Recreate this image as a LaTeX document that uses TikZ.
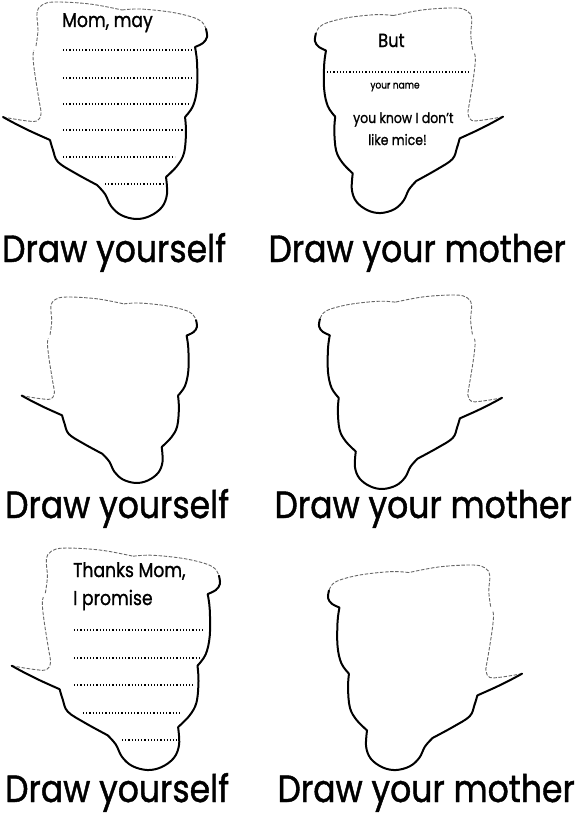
\documentclass[tikz,border=0pt]{standalone}
\usepackage{fontspec}
\setmainfont{Poppins}[FakeBold=1.2]

\begin{document}
\begin{tikzpicture}[x=1pt, y=-1pt,
    cutline/.style={line width=2pt, line cap=round, line join=round, black},
    foldline/.style={line width=0.9pt, black!60, dash pattern=on 3.5pt off 1.6pt},
    dotline/.style={line width=1.2pt, black, dash pattern=on 1.1pt off 2.1pt},
    caption/.style={font=\fontsize{38}{40}\selectfont, xscale=0.87, inner sep=0},
    bubbletext/.style={font=\fontsize{20}{22}\selectfont, xscale=0.86, inner sep=0, anchor=base west}]
  \useasboundingbox (0,0) rectangle (576,819);
  % six bubbles, one outline, each shifted and scaled (negative xscale mirrors)
  \foreach \tx/\ty/\sx/\sy in {0/0/1/1, 505.8/6.1/-0.922/0.945, 19.1/295.3/0.859/0.857, 504.7/293.2/-0.897/0.894, 8.6/546/1.021/1.023, 524.9/563.1/-0.951/0.945} {
    \begin{scope}[shift={(\tx,\ty)}, xscale=\sx, yscale=\sy]
      \draw [foldline] plot [smooth, tension=0.6] coordinates {(3,117) (14,119) (28,121) (37,121) (41,114) (39,100) (35,75) (33,57) (34,50)}
        plot [smooth, tension=0.6] coordinates {(36,46) (38,30) (37,13) (42,5) (55,2) (90,4) (122,10)}
        plot [smooth, tension=0.6] coordinates {(122,10) (140,9) (170,12) (192,17) (202,22) (206,29)};
      \draw [cutline] plot [smooth, tension=0.6] coordinates {(206,29) (207,37) (203,43) (195,47)}
        plot [smooth, tension=0.6] coordinates {(195,47) (197,62) (197,88) (193,106) (185,117)}
        plot [smooth, tension=0.6] coordinates {(185,117) (186,132) (184,153) (177,166) (166,177)}
        plot [smooth, tension=0.6] coordinates {(166,177) (167,194) (162,207) (150,216) (136,219) (121,215) (111,206) (105,194) (97,185)}
        plot [smooth, tension=0.6] coordinates {(97,185) (75,173) (58,162) (53,150) (50,140)}
        plot [smooth, tension=0.6] coordinates {(50,140) (30,131) (14,123) (3,117)};
    \end{scope}
  }
  % lines to write on
  \foreach \y/\xa/\xb in {50/63/193, 78/63/192, 104/63/189, 130/63/184, 157/63/175, 184/105/163, 72/327/468, 630/74/205, 658/74/200, 685/74/193, 713/83/180, 740/122/177}
    {\draw [dotline] (\xa,\y) -- (\xb,\y);}
  \node [bubbletext] (T1) at (62,27) {Mom, may};
  \node [bubbletext, font=\fontsize{19}{21}\selectfont] (T2) at (378,47) {But};
  \node [bubbletext, font=\fontsize{10.5}{12}\selectfont, anchor=center] (T3) at (395,87) {your name};
  \node [bubbletext, font=\fontsize{14.5}{16}\selectfont] (T4) at (353,123) {you know I don't};
  \node [bubbletext, font=\fontsize{14.5}{16}\selectfont] (T5) at (368,145) {like mice!};
  \node [bubbletext] (T6) at (73,577) {Thanks Mom,};
  \node [bubbletext] (T7) at (73,605) {I promise};
  % captions
  \node [caption, anchor=base west] (Y1) at (2,262) {Draw yourself};
  \node [caption, anchor=base east] (M1) at (566,262) {Draw your mother};
  \node [caption, anchor=base west] (Y2) at (5,518) {Draw yourself};
  \node [caption, anchor=base east] (M2) at (572,518) {Draw your mother};
  \node [caption, anchor=base west] (Y3) at (5,802) {Draw yourself};
  \node [caption, anchor=base east] (M3) at (575,802) {Draw your mother};
\end{tikzpicture}
\end{document}
